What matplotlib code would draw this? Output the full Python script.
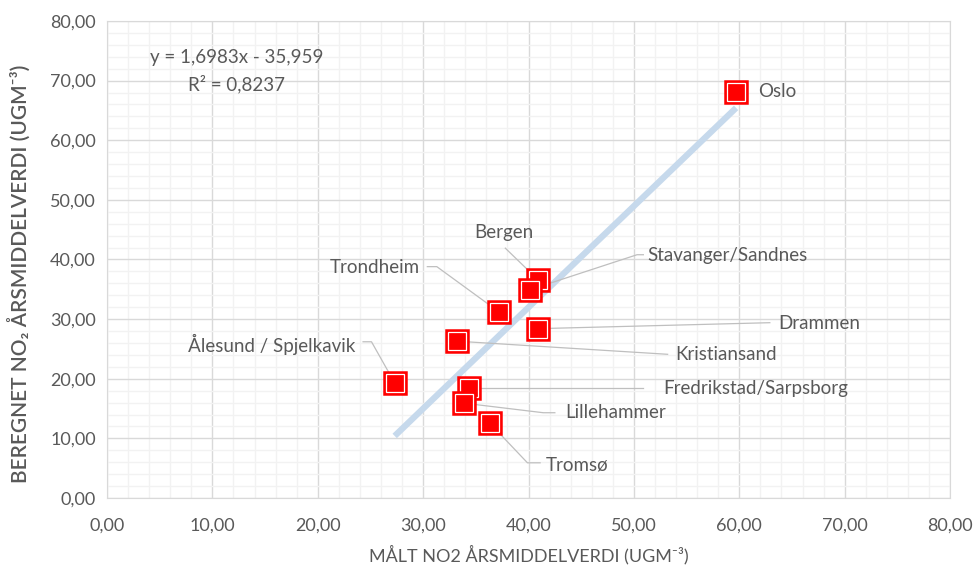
import matplotlib
matplotlib.use('Agg')
import matplotlib.pyplot as plt
import numpy as np

# data
byer = ['Oslo', 'Bergen', 'Stavanger/Sandnes', 'Trondheim', 'Drammen', 'Kristiansand',
        'Ålesund / Spjelkavik', 'Fredrikstad/Sarpsborg', 'Lillehammer', 'Tromsø']
malt = [59.7, 40.9, 40.1, 37.2, 40.9, 33.2, 27.3, 34.4, 33.9, 36.3]
beregnet = [68.1, 36.6, 34.9, 31.2, 28.4, 26.3, 19.3, 18.5, 15.9, 12.6]
stigning = 1.6983
konstant = -35.959
r2 = 0.8237

# label layout: text position, alignment, leader elbow points (data coords)
etiketter = {
    'Oslo': ((61.8, 68.1), 'left', []),
    'Bergen': ((37.7, 44.6), 'center', [(37.8, 41.9)]),
    'Stavanger/Sandnes': ((51.3, 40.6), 'left', [(50.9, 40.8), (50.3, 40.8)]),
    'Trondheim': ((29.7, 38.6), 'right', [(30.4, 38.8), (31.3, 38.8)]),
    'Drammen': ((63.7, 29.2), 'left', [(62.9, 29.4)]),
    'Kristiansand': ((53.9, 24.0), 'left', [(53.2, 24.1)]),
    'Ålesund / Spjelkavik': ((23.6, 25.8), 'right', [(24.3, 26.2), (25.1, 26.2)]),
    'Fredrikstad/Sarpsborg': ((52.8, 18.3), 'left', [(50.9, 18.5)]),
    'Lillehammer': ((43.5, 14.4), 'left', [(42.5, 14.3), (41.4, 14.3)]),
    'Tromsø': ((41.6, 5.5), 'left', [(41.1, 5.9), (39.9, 5.9)]),
}

plt.rcParams['font.family'] = ['Lato', 'DejaVu Sans']
grå = '#595959'

fig = plt.figure(figsize=(9.77, 5.69), dpi=100)
ax = fig.add_axes([0.1095, 0.1248, 0.8629, 0.8383])
ax.set_xlim(0, 80)
ax.set_ylim(0, 80)
ax.set_xticks(np.arange(0, 81, 10))
ax.set_yticks(np.arange(0, 81, 10))
ax.set_xticks(np.arange(0, 81, 2), minor=True)
ax.set_yticks(np.arange(0, 81, 2), minor=True)
ax.set_xticklabels([f'{v:.2f}'.replace('.', ',') for v in np.arange(0, 81, 10)])
ax.set_yticklabels([f'{v:.2f}'.replace('.', ',') for v in np.arange(0, 81, 10)])
ax.tick_params(which='both', length=0, labelsize=13, colors=grå)
ax.tick_params(axis='x', pad=14)
ax.tick_params(axis='y', pad=8)
ax.grid(which='minor', color='#F2F2F2', lw=1)
ax.grid(which='major', color='#D9D9D9', lw=1)
ax.set_axisbelow(True)
for s in ax.spines.values():
    s.set_color('#D9D9D9')

# trendline
xt = np.array([min(malt), max(malt)])
ax.plot(xt, stigning * xt + konstant, color='#C6D9EC', lw=4.5, solid_capstyle='butt', zorder=2)

# leader lines and labels
for i, by in enumerate(byer):
    (tx, ty), ha, knekk = etiketter[by]
    if knekk:
        pts = knekk + [(malt[i], beregnet[i])]
        ax.plot([p[0] for p in pts], [p[1] for p in pts], color='#BFBFBF', lw=0.9, zorder=3)
    ax.text(tx, ty, by, ha=ha, va='center', fontsize=13.5, color=grå, zorder=5)

# markers
for i in range(len(byer)):
    z = 10 + i
    ax.plot(malt[i], beregnet[i], marker='s', ms=16, mfc='#FF0000', mec='#FF0000', mew=1.8, zorder=z)
    ax.plot(malt[i], beregnet[i], marker='s', ms=13.5, mfc='none', mec='white', mew=0.9, zorder=z)

ax.text(12.3, 73.8, f'y = {stigning:.4f}x - {abs(konstant):.3f}'.replace('.', ','),
        ha='center', va='center', fontsize=13.5, color=grå)
ax.text(12.3, 69.5, f'R² = {r2:.4f}'.replace('.', ','),
        ha='center', va='center', fontsize=13.5, color=grå)

ax.set_xlabel('MÅLT NO2 ÅRSMIDDELVERDI (UGM⁻³)', fontsize=13, color=grå, labelpad=8)
ax.set_ylabel('BEREGNET NO₂ ÅRSMIDDELVERDI (UGM⁻³)', fontsize=15, color=grå,
              fontweight='semibold')
ax.yaxis.set_label_coords(-0.09, 0.47)

fig.savefig('out.png', dpi=100)
